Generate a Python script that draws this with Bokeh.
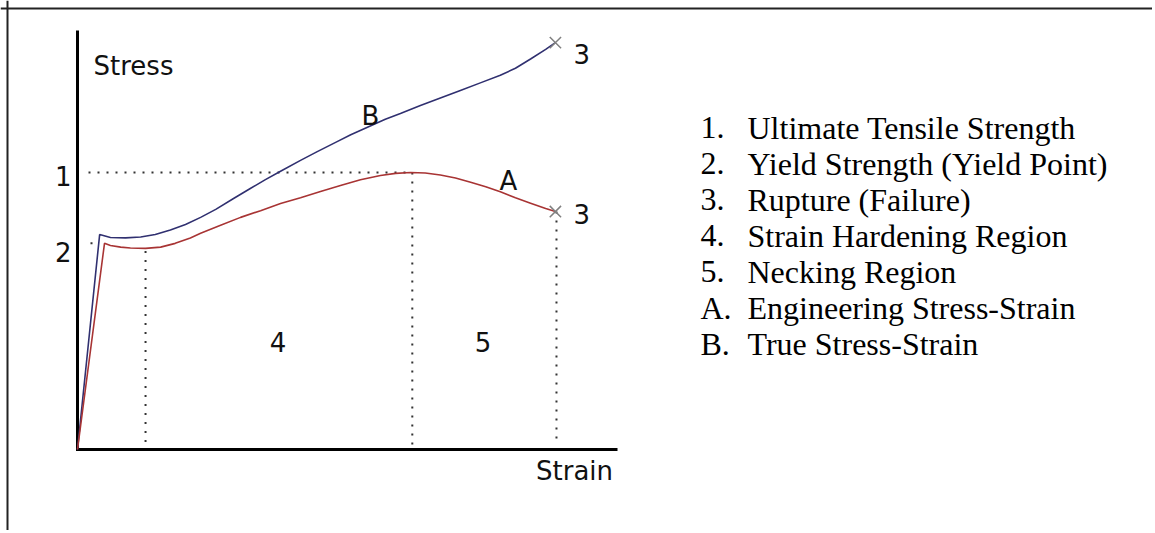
from bokeh.plotting import figure
from bokeh.models import ColumnDataSource, Span, Range1d
from bokeh.embed import file_html
from bokeh.resources import INLINE
from bokeh.core.properties import value

# ---------------- data (strain and stress in % of axis length) ----------------
eng_strain = [0, 5.0, 6.1, 8.0, 9.8, 12.6, 15.4, 18.1, 20.9, 22.8, 26.5, 30.2, 33.9, 37.6, 41.3,
              45.0, 48.7, 52.4, 56.1, 58.9, 61.7, 64.4, 67.2, 70.0, 72.8, 75.6, 78.3, 81.1,
              83.9, 86.7, 88.5]
eng_stress = [0, 49.2, 48.7, 48.3, 48.1, 48.0, 48.3, 49.2, 50.5, 51.6, 53.5, 55.4, 57.0, 58.7, 60.1,
              61.6, 63.0, 64.4, 65.4, 65.9, 66.1, 66.0, 65.5, 64.8, 63.8, 62.7, 61.5, 60.1,
              58.8, 57.5, 56.8]

true_strain = [0, 4.1, 6.1, 8.9, 11.7, 14.4, 17.2, 20.0, 22.8, 25.6, 28.9, 32.0, 34.8, 37.6, 41.3,
               44.4, 47.8, 50.6, 53.7, 57.0, 59.8, 63.5, 67.2, 70.9, 74.6, 78.3, 81.1, 83.9,
               86.7, 88.5]
true_stress = [0, 51.3, 50.6, 50.5, 50.7, 51.3, 52.4, 53.7, 55.4, 57.3, 59.9, 62.3, 64.4, 66.4, 69.0,
               71.1, 73.3, 75.1, 76.9, 78.8, 80.2, 82.1, 83.9, 85.7, 87.5, 89.3, 91.0, 93.2,
               95.5, 97.1]

axis_titles = ["Stress", "Strain"]
point_labels = ["1", "2", "3"]
curve_labels = ["A", "B"]
region_labels = ["4", "5"]

legend_keys = ["1.", "2.", "3.", "4.", "5.", "A.", "B."]
legend_items = [
    "Ultimate Tensile Strength",
    "Yield Strength (Yield Point)",
    "Rupture (Failure)",
    "Strain Hardening Region",
    "Necking Region",
    "Engineering Stress-Strain",
    "True Stress-Strain",
]

# ---------------- derived key points ----------------
i_uts = max(range(len(eng_stress)), key=lambda i: eng_stress[i])
uts_s, uts_v = eng_strain[i_uts], eng_stress[i_uts]
yield_s, yield_v = eng_strain[1], eng_stress[1]
i_low = min(range(1, i_uts), key=lambda i: eng_stress[i])
low_s, low_v = eng_strain[i_low], eng_stress[i_low]
rupA_s, rupA_v = eng_strain[-1], eng_stress[-1]
rupB_s, rupB_v = true_strain[-1], true_stress[-1]

# ---------------- layout (page pixels -> data) ----------------
W, H = 1152, 530
PAGE = 0
X0, Y0 = 77.0, 449.0       # page pixel of the origin
KX, KY = 5.4, 4.19         # pixels per data unit


def sx(px):
    return (px - X0) / KX


def sy(py):
    return (Y0 - py) / KY


def py_of(v):
    return Y0 - KY * v


def px_of(s):
    return X0 + KX * s


p = figure(width=W, height=H,
           x_range=Range1d(sx(PAGE), sx(PAGE + W)),
           y_range=Range1d(sy(PAGE + H), sy(PAGE)),
           x_axis_type=None, y_axis_type=None,
           output_backend="svg", toolbar_location=None, min_border=0)
p.grid.visible = False
p.outline_line_color = None
p.background_fill_color = "white"
p.border_fill_color = "white"

# page frame (left and top edge)
p.add_layout(Span(location=sx(7), dimension="height", line_color="#222222", line_width=2))
p.add_layout(Span(location=sy(8), dimension="width", line_color="#222222", line_width=2))

# axes
p.line([0, 0, 100], [100, 0, 0], line_color="black", line_width=3, line_join="miter")

# dotted guides
dot = dict(line_color="#333333", line_width=2, line_dash="2 7")
p.line([sx(88), uts_s], [uts_v, uts_v], **dot)
p.line([sx(90), sx(98.5)], [yield_v, yield_v], **dot)
for s_, v_ in [(low_s, low_v - 0.6), (uts_s + 0.3, uts_v), (rupA_s + 0.2, rupA_v)]:
    p.line([s_, s_], [v_, sy(445)], **dot)

# curves
p.line(true_strain, true_stress, line_color="#303070", line_width=1.6)
p.line(eng_strain, eng_stress, line_color="#a83434", line_width=1.6)

# rupture markers
p.scatter([rupA_s, rupB_s], [rupA_v, rupB_v], marker="x", size=16,
          line_color="#808080", line_width=1.5)

sans = dict(text_font=value("DejaVu Sans"), text_font_size="26px",
            text_color="#111111", text_baseline="alphabetic")

# centered labels
c_src = ColumnDataSource(dict(
    x=[sx(133), sx(574), sx(508), sx(370), (low_s + uts_s) / 2, (uts_s + rupA_s) / 2],
    y=[sy(65), sy(470), sy(180), sy(115), sy(341), sy(341)],
    t=[axis_titles[0], axis_titles[1], curve_labels[0], curve_labels[1],
       region_labels[0], region_labels[1]],
))
p.text(x="x", y="y", text="t", source=c_src, text_align="center", **sans)

# tick labels on stress axis
t_src = ColumnDataSource(dict(
    x=[sx(71), sx(71)],
    y=[sy(py_of(uts_v) + 3), sy(py_of(yield_v) + 9)],
    t=[point_labels[0], point_labels[1]],
))
p.text(x="x", y="y", text="t", source=t_src, text_align="right", **sans)

# rupture labels
r_src = ColumnDataSource(dict(
    x=[sx(px_of(rupB_s) + 18), sx(px_of(rupA_s) + 18)],
    y=[sy(py_of(rupB_v) + 11), sy(py_of(rupA_v) + 2)],
    t=[point_labels[2], point_labels[2]],
))
p.text(x="x", y="y", text="t", source=r_src, text_align="left", **sans)

# legend text block
serif = dict(text_font=value("Liberation Serif"), text_font_size="32px",
             text_color="black", text_baseline="alphabetic", text_align="left")
base0, step = 127.0, 36.0
ys = [sy(base0 + step * i) for i in range(len(legend_keys))]
p.text(x=[sx(700)] * len(legend_keys), y=ys, text=legend_keys, **serif)
p.text(x=[sx(747)] * len(legend_items), y=ys, text=legend_items, **serif)

open("out.html", "w").write(file_html(p, INLINE))
